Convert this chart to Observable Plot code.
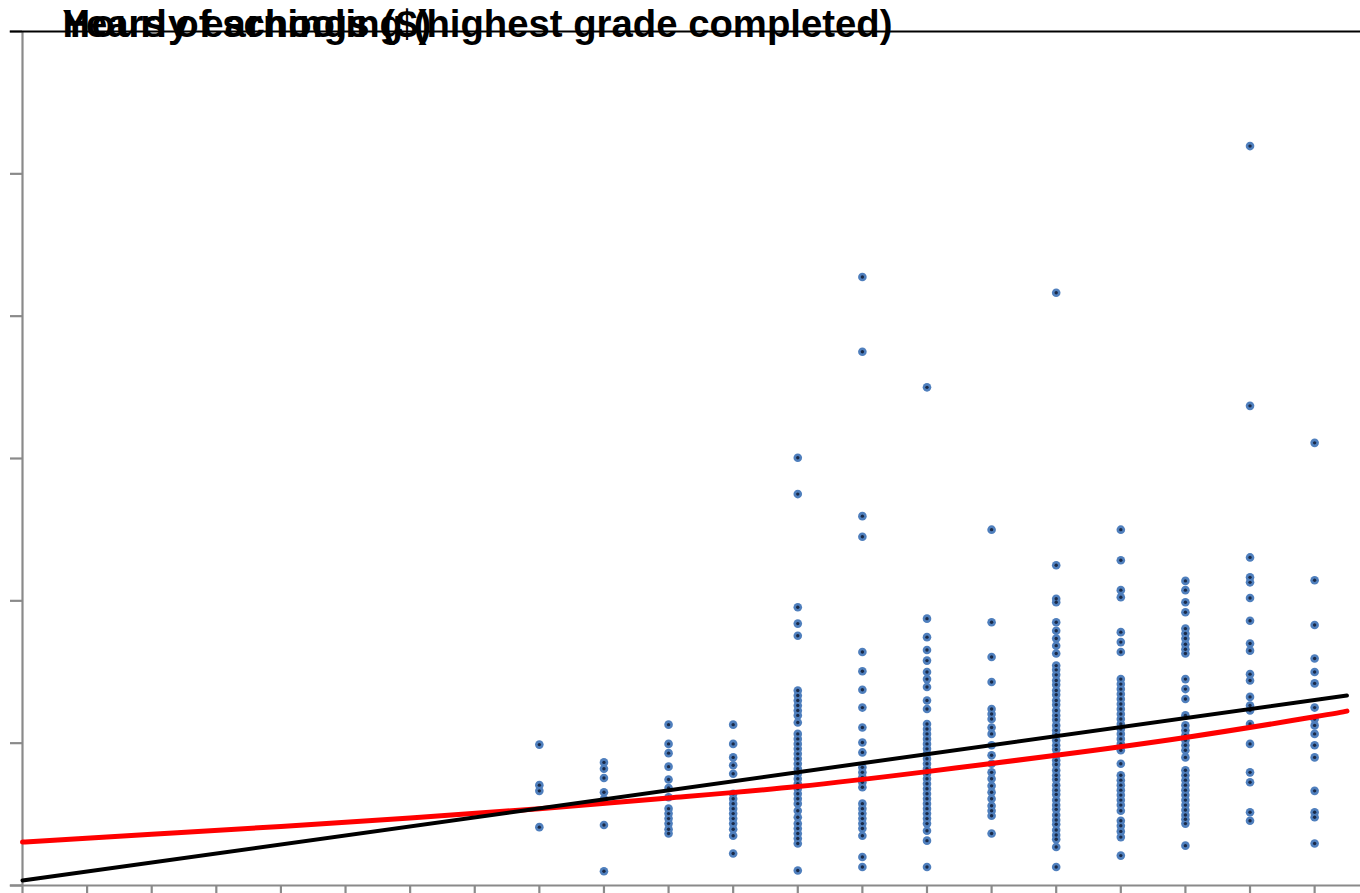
<!DOCTYPE html>
<html>
<head>
<meta charset="utf-8">
<script src="https://cdn.jsdelivr.net/npm/d3@7"></script>
<script src="https://cdn.jsdelivr.net/npm/@observablehq/plot@0.6"></script>
<style>
  html, body { margin: 0; padding: 0; background: #fff; }
  #chart { width: 1360px; height: 893px; }
</style>
</head>
<body>
<div id="chart"></div>
<script>
// Axis titles (overlapping, as in the reference)
const xTitle = "Years of schooling (highest grade completed)";
const yTitle = "Hourly earnings ($)";

// Tick positions (no tick labels shown)
const xTicks = d3.range(0, 21);
const yTicks = [0, 20, 40, 60, 80, 100, 120];

// Hourly earnings ($) observed at each level of schooling
const earnS8  = [19.8, 14.1, 13.3, 8.2];
const earnS9  = [17.3, 16.4, 15.1, 13.1, 12.1, 8.5, 2.0];
const earnS10 = [22.6, 19.9, 18.6, 16.7, 14.9, 13.7, 12.4, 10.8, 10.1, 9.4, 8.7, 7.9, 7.3];
const earnS11 = [22.6, 19.9, 18.0, 16.9, 15.7, 12.9, 12.2, 11.5, 10.8, 10.1, 9.4, 8.7, 7.9, 7.0, 4.5];
const earnS12 = [60.1, 55.0, 39.1, 36.8, 35.1, 27.4, 26.7, 26.0, 25.3, 24.6, 23.9, 22.9, 21.3, 20.6, 19.9,
                 19.2, 18.5, 17.8, 17.1, 16.4, 15.7, 15.0, 14.3, 13.6, 12.9, 12.2, 11.5, 10.5, 9.6, 8.7,
                 8.0, 7.3, 6.6, 5.9, 2.1];
const earnS13 = [85.5, 75.0, 51.9, 49.0, 32.8, 30.1, 27.5, 25.0, 22.2, 20.1, 18.7, 16.6, 15.9, 15.2, 14.5,
                 13.8, 11.5, 10.8, 10.1, 9.4, 8.7, 8.0, 7.0, 4.0, 2.6];
const earnS14 = [70.0, 37.5, 34.9, 33.1, 31.6, 30.0, 29.0, 27.9, 26.0, 24.8, 22.7, 22.0, 21.3, 20.6, 19.9,
                 19.2, 18.5, 17.8, 17.1, 16.4, 15.7, 15.0, 14.3, 13.6, 12.9, 12.2, 11.5, 10.8, 10.1, 9.4,
                 8.7, 7.7, 6.3, 2.6];
const earnS15 = [50.0, 37.0, 32.1, 28.6, 24.8, 24.1, 23.4, 22.2, 21.3, 19.7, 18.3, 17.1, 15.9, 15.0, 14.0,
                 13.1, 12.2, 11.2, 10.5, 9.8, 7.3];
const earnS16 = [83.3, 45.0, 40.3, 39.8, 37.0, 35.8, 34.7, 33.7, 32.6, 30.9, 30.3, 29.6, 28.8, 28.2, 27.4,
                 26.8, 26.0, 25.4, 24.6, 23.9, 23.3, 22.5, 21.8, 21.2, 20.4, 19.7, 19.1, 18.3, 17.6, 17.0,
                 16.2, 15.5, 14.9, 14.1, 13.4, 12.8, 12.0, 11.3, 10.7, 9.9, 9.2, 8.6, 7.8, 7.1, 6.5, 5.4, 2.6];
const earnS17 = [50.0, 45.7, 41.5, 40.5, 35.6, 34.2, 32.8, 29.0, 28.3, 27.6, 26.9, 26.2, 25.5, 24.8, 24.1,
                 23.4, 22.7, 22.0, 21.3, 20.6, 19.9, 19.0, 17.1, 15.5, 14.8, 14.1, 13.4, 12.7, 12.0, 11.3,
                 10.5, 9.1, 8.4, 7.6, 6.8, 4.2];
const earnS18 = [42.8, 41.5, 39.8, 38.4, 36.1, 35.4, 34.7, 33.9, 33.2, 32.6, 29.0, 27.6, 26.2, 23.9, 22.5,
                 21.8, 21.1, 20.4, 19.7, 19.0, 18.0, 16.2, 15.5, 14.8, 14.1, 13.4, 12.7, 12.0, 11.3, 10.6,
                 9.9, 9.3, 8.7, 5.6];
const earnS19 = [103.9, 67.4, 46.1, 43.3, 42.6, 40.4, 37.2, 34.0, 33.0, 29.7, 28.8, 26.5, 25.3, 24.6, 22.7,
                 19.9, 15.9, 14.5, 10.3, 9.1];
const earnS20 = [62.2, 42.9, 36.6, 31.9, 30.0, 28.4, 25.0, 23.4, 22.5, 21.3, 19.7, 18.0, 13.3, 10.3, 9.6, 5.9];

const schoolingLevels = [8, 9, 10, 11, 12, 13, 14, 15, 16, 17, 18, 19, 20];
const earningsColumns = [earnS8, earnS9, earnS10, earnS11, earnS12, earnS13, earnS14,
                         earnS15, earnS16, earnS17, earnS18, earnS19, earnS20];

// Fitted lines
const linearX = [0, 20.5];
const linearY = [0.7, 26.7];
const curveX = [0, 2, 4, 6, 8, 10, 12, 14, 16, 18, 20, 20.5];
const curveY = [6.1, 7.2, 8.3, 9.5, 10.8, 12.3, 13.9, 16.0, 18.3, 20.8, 23.7, 24.5];

// Build tables
const points = schoolingLevels.flatMap((s, i) => earningsColumns[i].map(e => ({s, e})));
const linear = linearX.map((x, i) => ({x, y: linearY[i]}));
const curve = curveX.map((x, i) => ({x, y: curveY[i]}));

const gray = "#8a8a8a";
const titleStyle = {
  frameAnchor: "top-left", dx: 40, dy: 5, lineAnchor: "bottom", textAnchor: "start",
  fontSize: 38.3, fontWeight: "bold", fontFamily: "Liberation Sans, Arial, sans-serif", fill: "black"
};

const chart = Plot.plot({
  width: 1360,
  height: 893,
  marginLeft: 22,
  marginRight: 0,
  marginTop: 31,
  marginBottom: 8,
  style: {background: "white", overflow: "visible"},
  x: {domain: [0, 20.71]},
  y: {domain: [0, 120]},
  marks: [
    Plot.ruleY([0], {x1: -0.19, x2: 20.71, stroke: gray, strokeWidth: 2.2}),
    Plot.ruleX([0], {y1: 0, y2: 120, stroke: gray, strokeWidth: 2.2}),
    Plot.axisX(xTicks, {anchor: "bottom", tickSize: 8, tickFormat: () => "", stroke: gray, strokeWidth: 2.2, label: null}),
    Plot.axisY(yTicks, {anchor: "left", tickSize: 12, tickFormat: () => "", stroke: gray, strokeWidth: 2.2, label: null}),
    Plot.ruleY([120], {x1: -0.19, x2: 20.71, stroke: "black", strokeWidth: 2.2}),
    Plot.dot(points, {x: "s", y: "e", r: 4.3, fill: "#4f7fbd", stroke: "none"}),
    Plot.dot(points, {x: "s", y: "e", r: 1.7, fill: "#1a2a48", stroke: "none"}),
    Plot.line(curve, {x: "x", y: "y", stroke: "#ff0000", strokeWidth: 5, curve: "natural"}),
    Plot.line(linear, {x: "x", y: "y", stroke: "#000000", strokeWidth: 4}),
    Plot.text([xTitle], titleStyle),
    Plot.text([yTitle], {...titleStyle, className: "ytitle"})
  ]
});

// slightly wider tracking on the y title, as in the reference
d3.select(chart).selectAll(".ytitle text").attr("letter-spacing", "1.1px");

document.getElementById("chart").appendChild(chart);
</script>
</body>
</html>
